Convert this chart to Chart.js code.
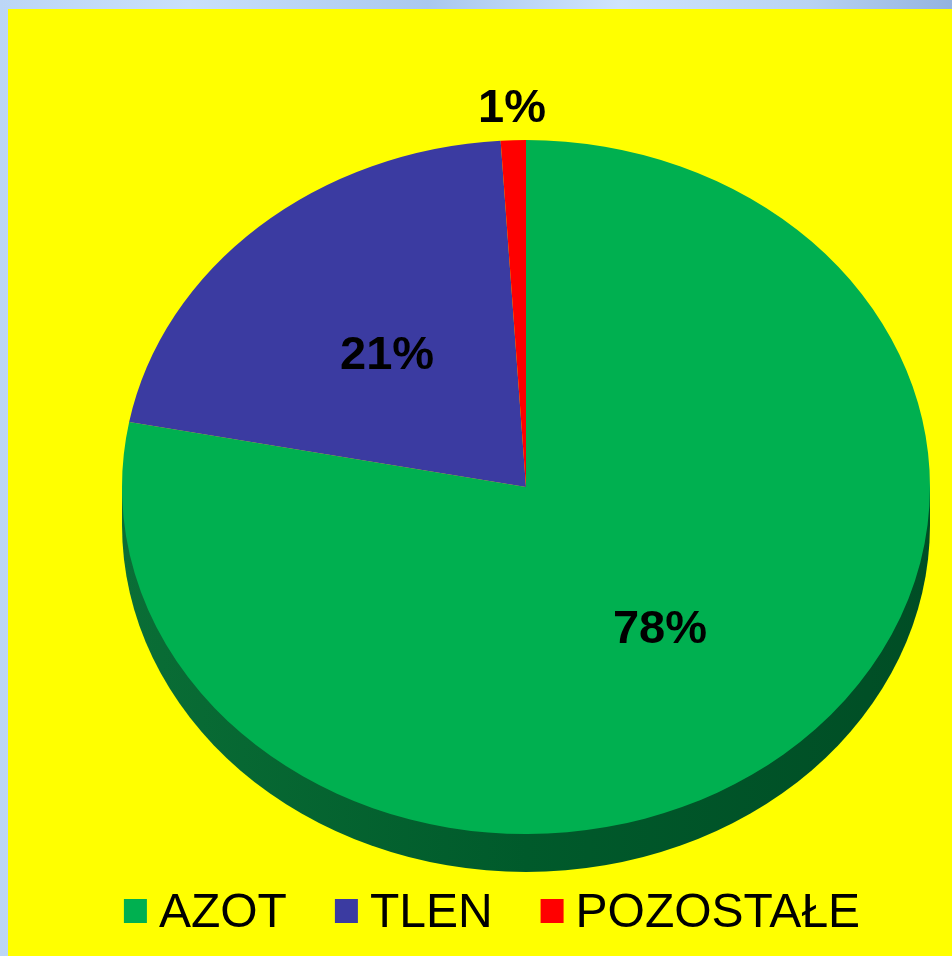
<!DOCTYPE html>
<html lang="pl">
<head>
    <meta charset="UTF-8">
    <title>Skład powietrza</title>
    <script src="https://cdn.jsdelivr.net/npm/chart.js"></script>
    <style>
        html, body { margin: 0; padding: 0; overflow: hidden; }
        body {
            width: 952px; height: 956px;
            background: linear-gradient(90deg, #bcd6f6 0%, #c9e0fb 20%, #a9c8ef 45%, #cfe4fd 65%, #b8d3f3 85%, #93b3e0 100%);
        }
        canvas { display: block; }
    </style>
</head>
<body>
    <canvas id="pieChart" width="952" height="956"></canvas>
    <script>
        // dane
        const categories = ['AZOT', 'TLEN', 'POZOSTAŁE'];
        const values = [78, 21, 1];
        const colors = ['#00b050', '#3b3ba1', '#ff0000'];

        const tilt = 0.859;      // spłaszczenie elipsy
        const depth = 38;        // grubość boku w px

        const pseudo3d = {
            id: 'pseudo3d',
            beforeDraw(chart) {
                const ctx = chart.ctx;
                ctx.save();
                ctx.fillStyle = '#ffff00';
                ctx.fillRect(8, 9, chart.width - 8, chart.height - 9);
                ctx.restore();
            },
            beforeDatasetsDraw(chart) {
                const ctx = chart.ctx;
                const arc = chart.getDatasetMeta(0).data[0];
                const cx = arc.x, cy = arc.y, r = arc.outerRadius;
                ctx.save();
                ctx.translate(cx, cy);
                ctx.scale(1, tilt);
                ctx.translate(-cx, -cy);
                // bok tortu
                const d = depth / tilt;
                const g = ctx.createLinearGradient(cx - r, 0, cx + r, 0);
                g.addColorStop(0, '#0a6e36');
                g.addColorStop(0.5, '#005a2b');
                g.addColorStop(1, '#004d25');
                ctx.fillStyle = g;
                ctx.beginPath();
                ctx.ellipse(cx, cy + d, r, r, 0, 0, Math.PI);
                ctx.lineTo(cx - r, cy);
                ctx.lineTo(cx + r, cy);
                ctx.closePath();
                ctx.fill();
            },
            afterDatasetsDraw(chart) {
                chart.ctx.restore();
            },
            afterDraw(chart) {
                const ctx = chart.ctx;
                const meta = chart.getDatasetMeta(0);
                const total = values.reduce((a, b) => a + b, 0);
                ctx.save();
                // etykiety procentowe
                ctx.font = 'bold 47px "Liberation Sans", Arial, sans-serif';
                ctx.fillStyle = '#000';
                ctx.textAlign = 'center';
                ctx.textBaseline = 'alphabetic';
                meta.data.forEach((arc, i) => {
                    const share = values[i] / total;
                    const mid = (arc.startAngle + arc.endAngle) / 2;
                    const f = share < 0.05 ? 1.1 : 0.52;
                    const x = arc.x + Math.cos(mid) * arc.outerRadius * f;
                    const y = arc.y + Math.sin(mid) * arc.outerRadius * f * tilt;
                    ctx.fillText(Math.round(share * 100) + '%', x, y + 17);
                });
                // legenda
                ctx.font = '48px "Liberation Sans", Arial, sans-serif';
                ctx.textAlign = 'left';
                const box = 23, gapText = 12, gapItem = 48;
                const widths = categories.map(c => box + gapText + ctx.measureText(c).width);
                const full = widths.reduce((a, b) => a + b, 0) + gapItem * (categories.length - 1);
                let x = 492 - full / 2;
                const baseY = 927;
                categories.forEach((c, i) => {
                    ctx.fillStyle = colors[i];
                    ctx.fillRect(x, 899, box, 24);
                    ctx.fillStyle = '#000';
                    ctx.fillText(c, x + box + gapText, baseY);
                    x += widths[i] + gapItem;
                });
                ctx.restore();
            }
        };

        new Chart(document.getElementById('pieChart'), {
            type: 'pie',
            data: {
                labels: categories,
                datasets: [{
                    data: values,
                    backgroundColor: colors,
                    borderWidth: 0
                }]
            },
            options: {
                responsive: false,
                animation: false,
                layout: { padding: { left: 122, right: 22, top: 83, bottom: 65 } },
                plugins: {
                    legend: { display: false },
                    tooltip: { enabled: false }
                }
            },
            plugins: [pseudo3d]
        });
    </script>
</body>
</html>
